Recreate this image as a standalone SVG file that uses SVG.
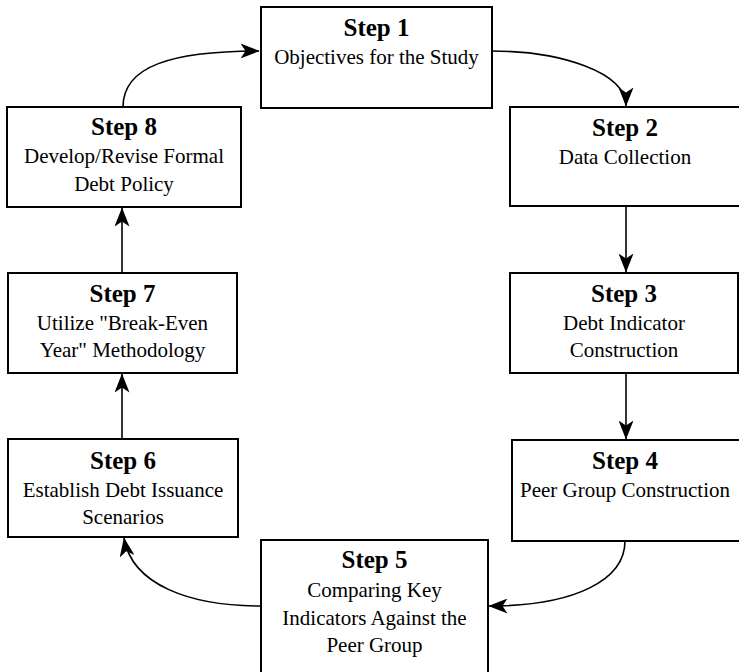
<svg xmlns="http://www.w3.org/2000/svg" width="739" height="672" viewBox="0 0 739 672">
<defs>
<style>
.box{fill:#fff;stroke:#000;stroke-width:2}
.t{font-family:"Liberation Serif","Times New Roman",serif;text-anchor:middle;fill:#000}
.h{font-size:25px;font-weight:bold}
.b{font-size:21px;font-weight:normal}
.c{fill:none;stroke:#000;stroke-width:1.6}
</style>
<marker id="ah" viewBox="0 0 19 15" refX="18.5" refY="7.5" markerWidth="19" markerHeight="15" markerUnits="userSpaceOnUse" orient="auto">
<path d="M0,0 L19,7.5 L0,15 L5,7.5 Z" fill="#000"/>
</marker>
</defs>
<rect width="739" height="672" fill="#fff"/>
<g id="connectors">
<path class="c" d="M123,107 C123,66 172,51 259,51" marker-end="url(#ah)"/>
<path class="c" d="M492,51 C560,51 626,72 626,106" marker-end="url(#ah)"/>
<path class="c" d="M626,206 L626,272" marker-end="url(#ah)"/>
<path class="c" d="M626,373 L626,439" marker-end="url(#ah)"/>
<path class="c" d="M625,541 C625,580 575,606 489,606" marker-end="url(#ah)"/>
<path class="c" d="M261,606 C190,606 132,585 124,538" marker-end="url(#ah)"/>
<path class="c" d="M122,439 L122,374" marker-end="url(#ah)"/>
<path class="c" d="M122,273 L122,208" marker-end="url(#ah)"/>
</g>
<g id="step1">
<rect class="box" x="261" y="7" width="231" height="101"/>
<text class="t h" x="376.5" y="36">Step 1</text>
<text class="t b" x="376.5" y="64">Objectives for the Study</text>
</g>
<g id="step2">
<rect class="box" x="510" y="107" width="240" height="99"/>
<text class="t h" x="625" y="136">Step 2</text>
<text class="t b" x="625" y="164">Data Collection</text>
</g>
<g id="step3">
<rect class="box" x="510" y="273" width="228" height="100"/>
<text class="t h" x="624" y="302">Step 3</text>
<text class="t b" x="624" y="330">Debt Indicator</text>
<text class="t b" x="624" y="357">Construction</text>
</g>
<g id="step4">
<rect class="box" x="512" y="440" width="240" height="101"/>
<text class="t h" x="625" y="469">Step 4</text>
<text class="t b" x="625" y="497">Peer Group Construction</text>
</g>
<g id="step5">
<rect class="box" x="261" y="540" width="227" height="140"/>
<text class="t h" x="374.5" y="568">Step 5</text>
<text class="t b" x="374.5" y="597">Comparing Key</text>
<text class="t b" x="374.5" y="625">Indicators Against the</text>
<text class="t b" x="374.5" y="652">Peer Group</text>
</g>
<g id="step6">
<rect class="box" x="8" y="439" width="230" height="98"/>
<text class="t h" x="123" y="469">Step 6</text>
<text class="t b" x="123" y="497">Establish Debt Issuance</text>
<text class="t b" x="123" y="524">Scenarios</text>
</g>
<g id="step7">
<rect class="box" x="8" y="273" width="229" height="100"/>
<text class="t h" x="122.5" y="302">Step 7</text>
<text class="t b" x="122.5" y="330">Utilize "Break-Even</text>
<text class="t b" x="122.5" y="357">Year" Methodology</text>
</g>
<g id="step8">
<rect class="box" x="7" y="107" width="234" height="100"/>
<text class="t h" x="124" y="135">Step 8</text>
<text class="t b" x="124" y="163">Develop/Revise Formal</text>
<text class="t b" x="124" y="191">Debt Policy</text>
</g>
</svg>
